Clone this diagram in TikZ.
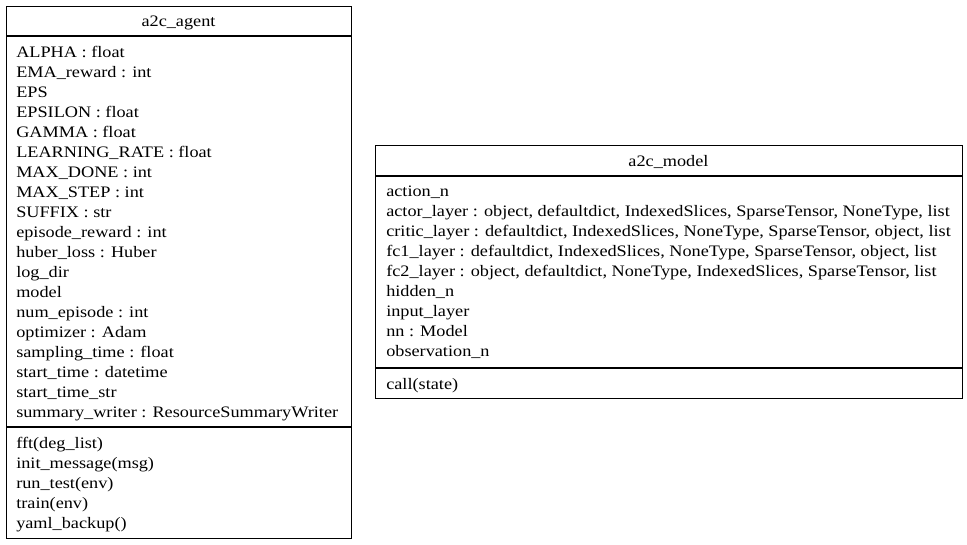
\documentclass[tikz,border=0pt]{standalone}
\usepackage{fontspec}
\setmainfont[FakeStretch=1.14]{Liberation Serif}
\begin{document}
\begin{tikzpicture}[x=0.75pt,y=-0.75pt,
  txt/.style={inner sep=0pt, anchor=base west, font=\fontsize{12}{15}\selectfont},
  ttl/.style={inner sep=0pt, anchor=base, font=\fontsize{12}{15}\selectfont},
  box/.style={draw=black, line width=0.8pt, inner sep=0pt, anchor=north west},
  divider/.style={draw=black, line width=0.8pt}]
\useasboundingbox (0,0) rectangle (967,544);
% a2c_agent
\node[box, minimum width=258.75pt, minimum height=399pt] (agent) at (6,6) {};
\node[ttl] (agent-title) at (178.5,26.5) {a2c\_agent};
\draw[divider] (agent.west |- 0,36) -- (agent.east |- 0,36);
\draw[divider] (agent.west |- 0,427) -- (agent.east |- 0,427);
\foreach \t [count=\i] in {ALPHA : float, EMA\_reward : int, EPS, EPSILON : float, GAMMA : float, LEARNING\_RATE : float, MAX\_DONE : int, MAX\_STEP : int, SUFFIX : str, episode\_reward : int, huber\_loss : Huber, log\_dir, model, num\_episode : int, optimizer : Adam, sampling\_time : float, start\_time : datetime, start\_time\_str, summary\_writer : ResourceSummaryWriter}
  \node[txt] (agent-a\i) at (16,{57+20*(\i-1)}) {\t};
\foreach \t [count=\i] in {fft(deg\_list), init\_message(msg), run\_test(env), train(env), yaml\_backup()}
  \node[txt] (agent-m\i) at (16,{448+20*(\i-1)}) {\t};
% a2c_model
\node[box, minimum width=440.25pt, minimum height=189.75pt] (model) at (375,145) {};
\node[ttl] (model-title) at (668.5,166) {a2c\_model};
\draw[divider] (model.west |- 0,176) -- (model.east |- 0,176);
\draw[divider] (model.west |- 0,368) -- (model.east |- 0,368);
\foreach \t [count=\i] in {action\_n, {actor\_layer : object, defaultdict, IndexedSlices, SparseTensor, NoneType, list}, {critic\_layer : defaultdict, IndexedSlices, NoneType, SparseTensor, object, list}, {fc1\_layer : defaultdict, IndexedSlices, NoneType, SparseTensor, object, list}, {fc2\_layer : object, defaultdict, NoneType, IndexedSlices, SparseTensor, list}, hidden\_n, input\_layer, nn : Model, observation\_n}
  \node[txt] (model-a\i) at (386,{196+20*(\i-1)}) {\t};
\node[txt] (model-m1) at (386,389) {call(state)};
\end{tikzpicture}
\end{document}
